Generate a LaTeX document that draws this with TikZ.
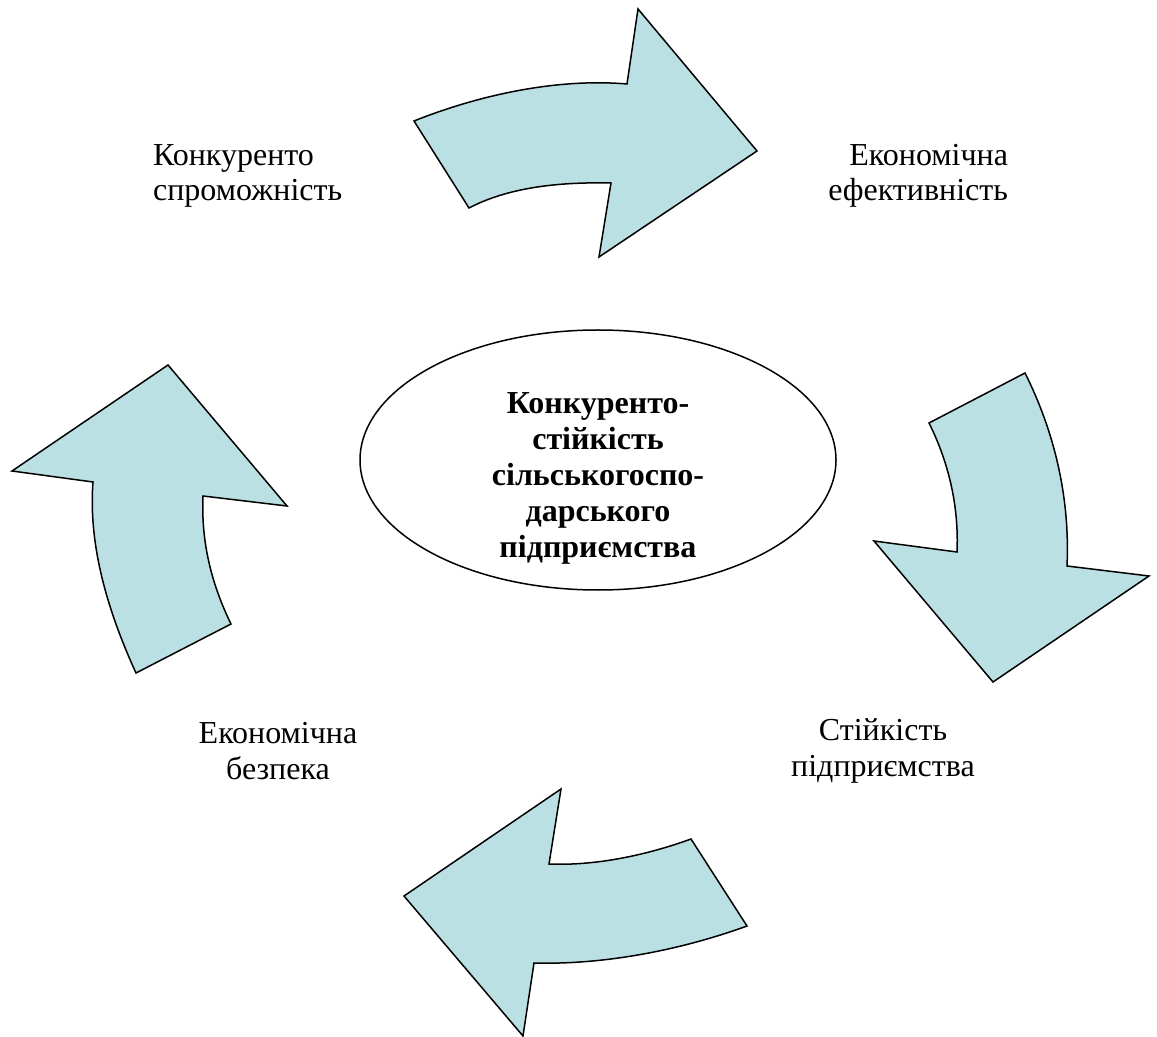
\documentclass[tikz,border=0pt]{standalone}
\usepackage{fontspec}
\setmainfont{Liberation Serif}
\usetikzlibrary{shapes.geometric}

\definecolor{arrowfill}{RGB}{187,224,227}

\tikzset{
  bigarrow/.style={draw=black, fill=arrowfill, line width=0.75pt, line join=miter},
  core/.style={ellipse, draw=black, line width=0.75pt, minimum width=238pt, minimum height=130pt, inner sep=0pt},
  coretext/.style={align=center, font=\fontsize{16}{18}\selectfont\bfseries},
  lbl/.style={align=center, font=\fontsize{16}{17.7}\selectfont}
}

\begin{document}
\begin{tikzpicture}[x=0.5pt,y=-0.5pt]

\useasboundingbox (0,0) rectangle (1157,1037);

% --- Frecce curve ---
% in alto
\draw[bigarrow] (414,121) .. controls (479,95) and (557,78) .. (627,84)
  -- (638,9) -- (757,151) -- (599,257) -- (611,183)
  .. controls (564,182) and (511,186) .. (469,208) -- cycle;

% a destra
\draw[bigarrow] (1025,373) .. controls (1056,435) and (1070,501) .. (1067,566)
  -- (1149,576) -- (993,682) -- (874,541) -- (957,552)
  .. controls (959,507) and (949,463) .. (929,423) -- cycle;

% in basso
\draw[bigarrow] (747,926) .. controls (681,950) and (604,965) .. (534,963)
  -- (523,1036) -- (404,896) -- (561,789) -- (549,864)
  .. controls (596,866) and (647,855) .. (691,839) -- cycle;

% a sinistra
\draw[bigarrow] (136,673) .. controls (109,614) and (88,547) .. (93,482)
  -- (12,471) -- (168,365) -- (287,506) -- (203,496)
  .. controls (201,541) and (211,583) .. (231,624) -- cycle;

% --- Ellisse centrale ---
\node[core] (core) at (598,460) {};
\node[coretext] (coretext) at (598,478) {Конкуренто-\\стійкість\\сільськогоспо-\\дарського\\підприємства};

% --- Etichette ---
\node[lbl, align=left, anchor=west] (konk) at (146,176) {Конкуренто\\спроможність};
\node[lbl, align=right, anchor=east] (efekt) at (1015,176) {Економічна\\ефективність};
\node[lbl] (stiyk) at (883,751) {Стійкість\\підприємства};
\node[lbl] (bezp) at (278,751) {Економічна\\безпека};

\end{tikzpicture}
\end{document}
